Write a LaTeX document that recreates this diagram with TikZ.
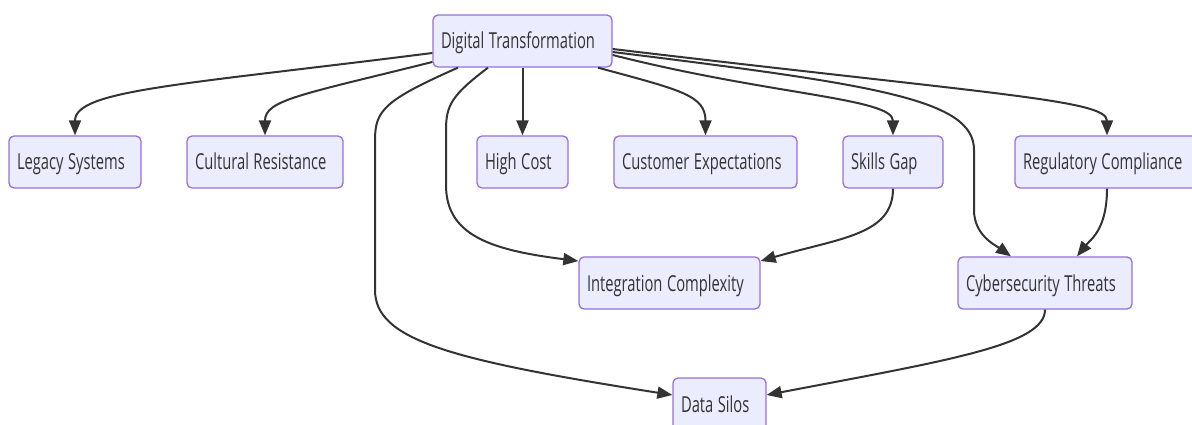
\documentclass[tikz,border=0pt]{standalone}
\usepackage{fontspec}
\newfontfamily\nodefont{Open Sans}[FakeStretch=0.67]
\usetikzlibrary{arrows.meta}
\definecolor{nodefill}{HTML}{ECECFF}
\definecolor{nodeborder}{HTML}{9370DB}
\definecolor{ink}{HTML}{333333}
\newcommand\wsp{\hspace{4.5pt}}
\tikzset{
  box/.style={draw=nodeborder, fill=nodefill, line width=1.3pt, rounded corners=5pt,
    minimum height=52pt, inner xsep=8pt, inner ysep=0pt, align=left,
    text height=18pt, text depth=2pt,
    font={\nodefont\fontsize{22pt}{26pt}\selectfont}, text=ink},
  link/.style={draw=ink, line width=2pt, -{Triangle[length=15pt,width=12pt]}},
}
\begin{document}
\begin{tikzpicture}[x=1pt,y=-1pt]
\useasboundingbox (0,0) rectangle (1192,425);
\node[box, text width=163pt] (dt) at (522.5,41) {\mbox{Digital\wsp Transformation}};
\node[box, text width=116pt] (legacy) at (75,162) {\mbox{Legacy\wsp Systems}};
\node[box, text width=140pt] (cultural) at (265,162) {\mbox{Cultural\wsp Resistance}};
\node[box, text width=75pt] (high) at (522.5,162) {\mbox{High\wsp Cost}};
\node[box, text width=167pt] (customer) at (705.5,162) {\mbox{Customer\wsp Expectations}};
\node[box, text width=84pt] (skills) at (893,162) {\mbox{Skills\wsp Gap}};
\node[box, text width=168pt] (reg) at (1107,162) {\mbox{Regulatory\wsp Compliance}};
\node[box, text width=165pt] (integ) at (669.5,283) {\mbox{Integration\wsp Complexity}};
\node[box, text width=158pt] (cyber) at (1045,283) {\mbox{Cybersecurity\wsp Threats}};
\node[box, text width=77pt] (silos) at (719.5,404) {\mbox{Data\wsp Silos}};

\path[link] ([yshift=-12pt]dt.west) .. controls (180,85) and (75,90) .. (legacy.north);
\path[link] ([yshift=-21pt]dt.west) .. controls (300,95) and (265,100) .. (cultural.north);
\path[link] ([xshift=-64.5pt]dt.south) .. controls (385,100) and (375,110) .. (375,140)
   -- (375,290) .. controls (375,340) and (450,360) .. ([yshift=9pt]silos.west);
\path[link] ([xshift=-34.5pt]dt.south) .. controls (452,95) and (446,105) .. (446,130)
   -- (446,185) .. controls (446,235) and (490,250) .. ([yshift=22pt]integ.west);
\path[link] (dt.south) -- (high.north);
\path[link] ([xshift=75.5pt]dt.south) .. controls (680,90) and (705.5,95) .. (customer.north);
\path[link] ([yshift=-14pt]dt.east) .. controls (770,95) and (893,98) .. (skills.north);
\path[link] ([yshift=-11pt]dt.east) .. controls (880,85) and (974,100) .. (974,150)
   -- (974,210) .. controls (974,235) and (995,245) .. ([xshift=-34pt]cyber.north);
\path[link] ([yshift=-8pt]dt.east) .. controls (1000,95) and (1107,100) .. (reg.north);
\path[link] (skills.south) .. controls (893,235) and (840,238) .. ([yshift=22pt]integ.east);
\path[link] (reg.south) .. controls (1107,230) and (1090,240) .. ([xshift=32pt]cyber.north);
\path[link] (cyber.south) .. controls (1045,345) and (950,360) .. ([yshift=9pt]silos.east);
\end{tikzpicture}
\end{document}
